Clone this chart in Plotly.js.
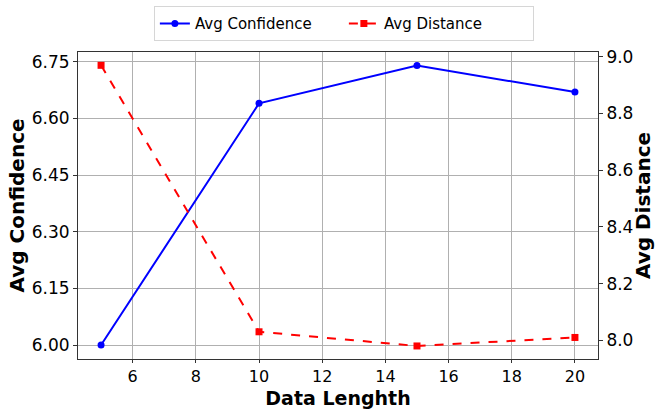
<!DOCTYPE html>
<html><head><meta charset="utf-8">
<script src="https://cdn.plot.ly/plotly-3.0.1.min.js"></script>
<style>html,body{margin:0;padding:0;background:#fff}</style>
</head><body><div id="chart" style="width:655px;height:409px"></div>
<script>
const dataLength = [5, 10, 15, 20];
const avgConfidence = [6.00, 6.64, 6.74, 6.67];
const avgDistance = [8.97, 8.03, 7.98, 8.01];
const xTicks = [6, 8, 10, 12, 14, 16, 18, 20];
const yTicksLeft = [6.00, 6.15, 6.30, 6.45, 6.60, 6.75];
const yTicksRight = [8.0, 8.2, 8.4, 8.6, 8.8, 9.0];

const font = {family: 'DejaVu Sans', size: 17, color: '#000'};
const titleFont = {family: 'DejaVu Sans', size: 20, weight: 'bold', color: '#000'};
const traces = [
  {x: dataLength, y: avgConfidence, name: 'Avg Confidence', type: 'scatter', mode: 'lines+markers',
   line: {color: '#0000ff', width: 2}, marker: {symbol: 'circle', size: 7, color: '#0000ff'}, yaxis: 'y'},
  {x: dataLength, y: avgDistance, name: 'Avg Distance', type: 'scatter', mode: 'lines+markers',
   line: {color: '#ff0000', width: 2, dash: 'dash'}, marker: {symbol: 'square', size: 7, color: '#ff0000'}, yaxis: 'y2'}
];
const layout = {
  width: 655, height: 409,
  margin: {l: 78, r: 57, t: 52, b: 50, autoexpand: false},
  paper_bgcolor: '#fff', plot_bgcolor: '#fff',
  font: font,
  showlegend: true,
  legend: {orientation: 'h', x: 0.525, xanchor: 'center', xref: 'container',
    y: 0.985, yanchor: 'top', yref: 'container',
    bordercolor: '#d6d6d6', borderwidth: 1, entrywidth: 144,
    font: {family: 'DejaVu Sans', size: 15}},
  xaxis: {range: [4.27, 20.73], tickvals: xTicks, ticktext: xTicks.map(String),
    tickfont: {family: 'DejaVu Sans', size: 16, color: '#000'},
    showgrid: true, gridcolor: '#b0b0b0', gridwidth: 1, zeroline: false,
    showline: true, linecolor: '#333', linewidth: 1, mirror: true,
    ticks: 'outside', ticklen: 3, tickcolor: '#333', automargin: true,
    title: {text: 'Data Lenghth', font: {family: 'DejaVu Sans', size: 19, weight: 'bold', color: '#000'}, standoff: 6}},
  yaxis: {range: [5.963, 6.776], tickvals: yTicksLeft, ticktext: yTicksLeft.map(v => v.toFixed(2)),
    showgrid: true, gridcolor: '#b0b0b0', gridwidth: 1, zeroline: false,
    showline: true, linecolor: '#333', linewidth: 1, automargin: true,
    ticks: 'outside', ticklen: 4, tickcolor: '#333',
    title: {text: 'Avg Confidence', font: titleFont, standoff: 1}},
  yaxis2: {range: [7.934, 9.017], tickvals: yTicksRight, ticktext: yTicksRight.map(v => v.toFixed(1)),
    overlaying: 'y', side: 'right', showgrid: false, zeroline: false,
    showline: true, linecolor: '#333', linewidth: 1, automargin: true,
    ticks: 'outside', ticklen: 4, tickcolor: '#333',
    title: {text: 'Avg Distance', font: titleFont, standoff: 5}}
};
Plotly.newPlot('chart', traces, layout, {displayModeBar: false, staticPlot: true});
</script></body></html>
